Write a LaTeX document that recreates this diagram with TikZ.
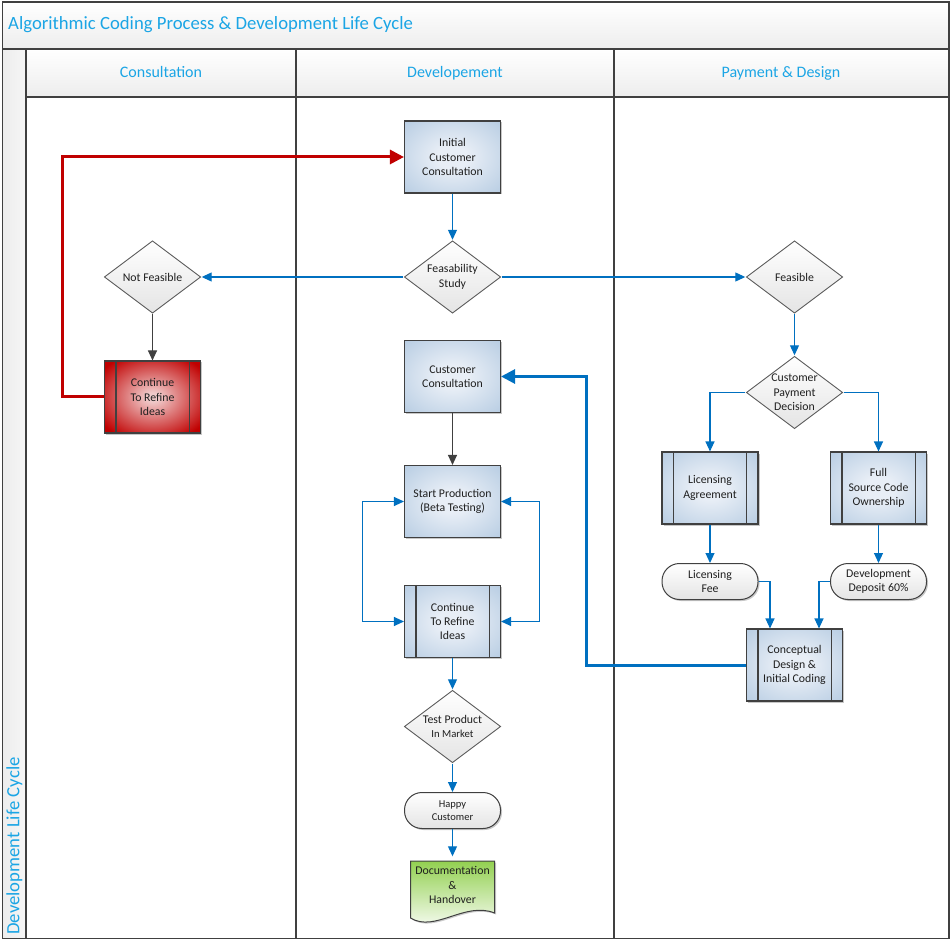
\documentclass[tikz,border=0pt]{standalone}
\usepackage{fontspec}
\setmainfont{Carlito}
\usetikzlibrary{arrows.meta,shadows}

\definecolor{frame}{HTML}{404040}
\definecolor{cyanT}{HTML}{1BA5E5}
\definecolor{blueL}{HTML}{0070C0}
\definecolor{redL}{HTML}{C00000}
\definecolor{boxin}{HTML}{E8EEF6}
\definecolor{boxout}{HTML}{A2BEDA}
\definecolor{redin}{HTML}{F0CACA}
\definecolor{redout}{HTML}{C00000}
\definecolor{diabot}{HTML}{E4E4E4}
\definecolor{docgreen}{HTML}{92D050}
\definecolor{hdrbot}{HTML}{EDEDED}

\pgfdeclareradialshading{boxshade}{\pgfpoint{0bp}{0bp}}{color(0bp)=(boxin); color(8bp)=(boxin); color(48bp)=(boxout); color(75bp)=(boxout)}
\pgfdeclareradialshading{redshade}{\pgfpoint{0bp}{0bp}}{color(0bp)=(redin); color(3bp)=(redin); color(32bp)=(redout); color(75bp)=(redout)}

\tikzset{
  frameline/.style={draw=frame, line width=1.3pt},
  nodetext/.style={font=\fontsize{11.8}{14.3}\selectfont, text=black!88, align=center, inner sep=0pt},
  lanetitle/.style={font=\fontsize{16}{18}\selectfont, text=cyanT, inner sep=0pt, anchor=base},
  softshadow/.style={drop shadow={opacity=0.22, shadow xshift=1.5pt, shadow yshift=-1.5pt, fill=black}},
  procbox/.style={nodetext, rectangle, draw=frame, line width=1.1pt, minimum width=96pt, minimum height=72pt, shade, shading=boxshade, softshadow},
  redsub/.style={procbox, shading=redshade},
  decision/.style={nodetext, rectangle, minimum width=98pt, minimum height=74pt,
    path picture={
      \shade[top color=white, bottom color=diabot]
        ([yshift=-1pt]path picture bounding box.north) -- ([xshift=-1pt]path picture bounding box.east) --
        ([yshift=1pt]path picture bounding box.south) -- ([xshift=1pt]path picture bounding box.west) -- cycle;
      \draw[draw=frame!85, line width=0.9pt]
        ([yshift=-1pt]path picture bounding box.north) -- ([xshift=-1pt]path picture bounding box.east) --
        ([yshift=1pt]path picture bounding box.south) -- ([xshift=1pt]path picture bounding box.west) -- cycle;
    }},
  termbox/.style={nodetext, rectangle, rounded corners=17.5pt, draw=frame, line width=1pt, minimum width=96pt, minimum height=36pt, top color=white, bottom color=diabot, softshadow},
  bl/.style={draw=blueL, line width=1.1pt, -{Triangle[length=10pt,width=9pt]}},
  blboth/.style={draw=blueL, line width=1.1pt, {Triangle[length=10pt,width=9pt]}-{Triangle[length=10pt,width=9pt]}},
  gl/.style={draw=frame, line width=1.1pt, -{Triangle[length=10pt,width=9pt]}},
  thickred/.style={draw=redL, line width=3pt, -{Triangle[length=14pt,width=14pt]}},
  thickblue/.style={draw=blueL, line width=3pt, -{Triangle[length=14pt,width=14pt]}},
}

\begin{document}
\begin{tikzpicture}[x=1pt,y=-1pt]
\useasboundingbox (0,0) rectangle (951,941);

% frame backgrounds
\shade[top color=white, bottom color=hdrbot] (2.5,2) rectangle (949,49);
\shade[top color=white, bottom color=hdrbot] (26,49) rectangle (949,97);
\shade[left color=hdrbot, right color=white!50!hdrbot] (2.5,49) rectangle (26,938.5);

% frame lines
\draw[frameline] (2.5,2) rectangle (949,938.5);
\draw[frameline] (2.5,49) -- (949,49);
\draw[frameline] (26,97) -- (949,97);
\draw[frameline] (26,49) -- (26,938.5);
\draw[frameline] (296,49) -- (296,938.5);
\draw[frameline] (614,49) -- (614,938.5);

% titles
\node[anchor=base west, text=cyanT, font=\fontsize{18.7}{20}\selectfont, inner sep=0pt] (title) at (8,30) {Algorithmic Coding Process \& Development Life Cycle};
\node[lanetitle] (h1) at (161,78) {Consultation};
\node[lanetitle] (h2) at (455,78) {Developement};
\node[lanetitle] (h3) at (781,78) {Payment \& Design};
\node[rotate=90, anchor=base, text=cyanT, font=\fontsize{18.7}{20}\selectfont, inner sep=0pt] (vt) at (19.5,846) {Development Life Cycle};

% nodes: development column
\node[procbox] (init) at (452.5,157) {Initial\\Customer\\Consultation};
\node[decision] (feas) at (452.5,277) {Feasability\\Study};
\node[procbox] (cc) at (452.5,376.5) {Customer\\Consultation};
\node[procbox] (sp) at (452.5,501.5) {Start Production\\(Beta Testing)};
\node[procbox] (ref) at (452.5,621.5) {Continue\\To Refine\\Ideas};
\node[decision] (tp) at (452.5,726.5) {Test Product\\{\fontsize{10.7}{12.5}\selectfont In Market}};
\node[termbox, font=\fontsize{10.5}{12.5}\selectfont] (hc) at (452.5,810.5) {Happy\\Customer};

% document shape
\fill[black, opacity=0.2] (412,862.5) -- (496,862.5) -- (496,914.5) .. controls (466,902.5) and (436,934.5) .. (412,919.5) -- cycle;
\shade[top color=docgreen, bottom color=white, draw=frame, line width=1pt]
  (410.5,861) -- (494.5,861) -- (494.5,913) .. controls (465,901) and (435,933) .. (410.5,918) -- cycle;
\node[nodetext, minimum width=84pt, minimum height=57pt] (doc) at (452.5,885) {Documentation\\\&\\Handover};

% consultation column
\node[decision] (nf) at (152.5,277) {Not Feasible};
\node[redsub] (nfref) at (152.5,397) {Continue\\To Refine\\Ideas};

% payment column
\node[decision] (fe) at (794.5,277) {Feasible};
\node[decision] (cpd) at (794.5,392.5) {Customer\\Payment\\Decision};
\node[procbox] (lic) at (710,488) {Licensing\\Agreement};
\node[procbox] (full) at (878.5,488) {Full\\Source Code\\Ownership};
\node[termbox] (lfee) at (710,581.5) {Licensing\\Fee};
\node[termbox] (dep) at (878.5,581.5) {Development\\Deposit 60\%};
\node[procbox] (conc) at (794.5,665) {Conceptual\\Design \&\\Initial Coding};

% subprocess inner lines
\foreach \n in {nfref,ref,lic,full,conc}{
  \draw[draw=frame, line width=1.1pt] ([xshift=12pt]\n.north west) -- ([xshift=12pt]\n.south west);
  \draw[draw=frame, line width=1.1pt] ([xshift=-12pt]\n.north east) -- ([xshift=-12pt]\n.south east);
}

% connectors
\draw[bl] (init) -- (feas);
\draw[bl] (feas.west) -- (nf.east);
\draw[bl] (feas.east) -- (fe.west);
\draw[gl] (nf) -- (nfref);
\draw[thickred] (nfref.west) -- (62,397) |- (init.west);
\draw[gl] (cc) -- (sp);
\draw[blboth] (sp.west) -- (362.5,501.5) |- (ref.west);
\draw[blboth] (sp.east) -- (539.5,501.5) |- (ref.east);
\draw[bl] (ref) -- (tp);
\draw[bl] (tp) -- (hc);
\draw[bl] (hc) -- (doc.north);
\draw[bl] (fe) -- (cpd);
\draw[bl] (cpd.west) -| (lic.north);
\draw[bl] (cpd.east) -| (full.north);
\draw[bl] (lic) -- (lfee);
\draw[bl] (full) -- (dep);
\draw[bl] (lfee.east) -| ([xshift=-24.5pt]conc.north);
\draw[bl] (dep.west) -| ([xshift=24.5pt]conc.north);
\draw[thickblue] (conc.west) -- (586,665) |- (cc.east);
\end{tikzpicture}
\end{document}
